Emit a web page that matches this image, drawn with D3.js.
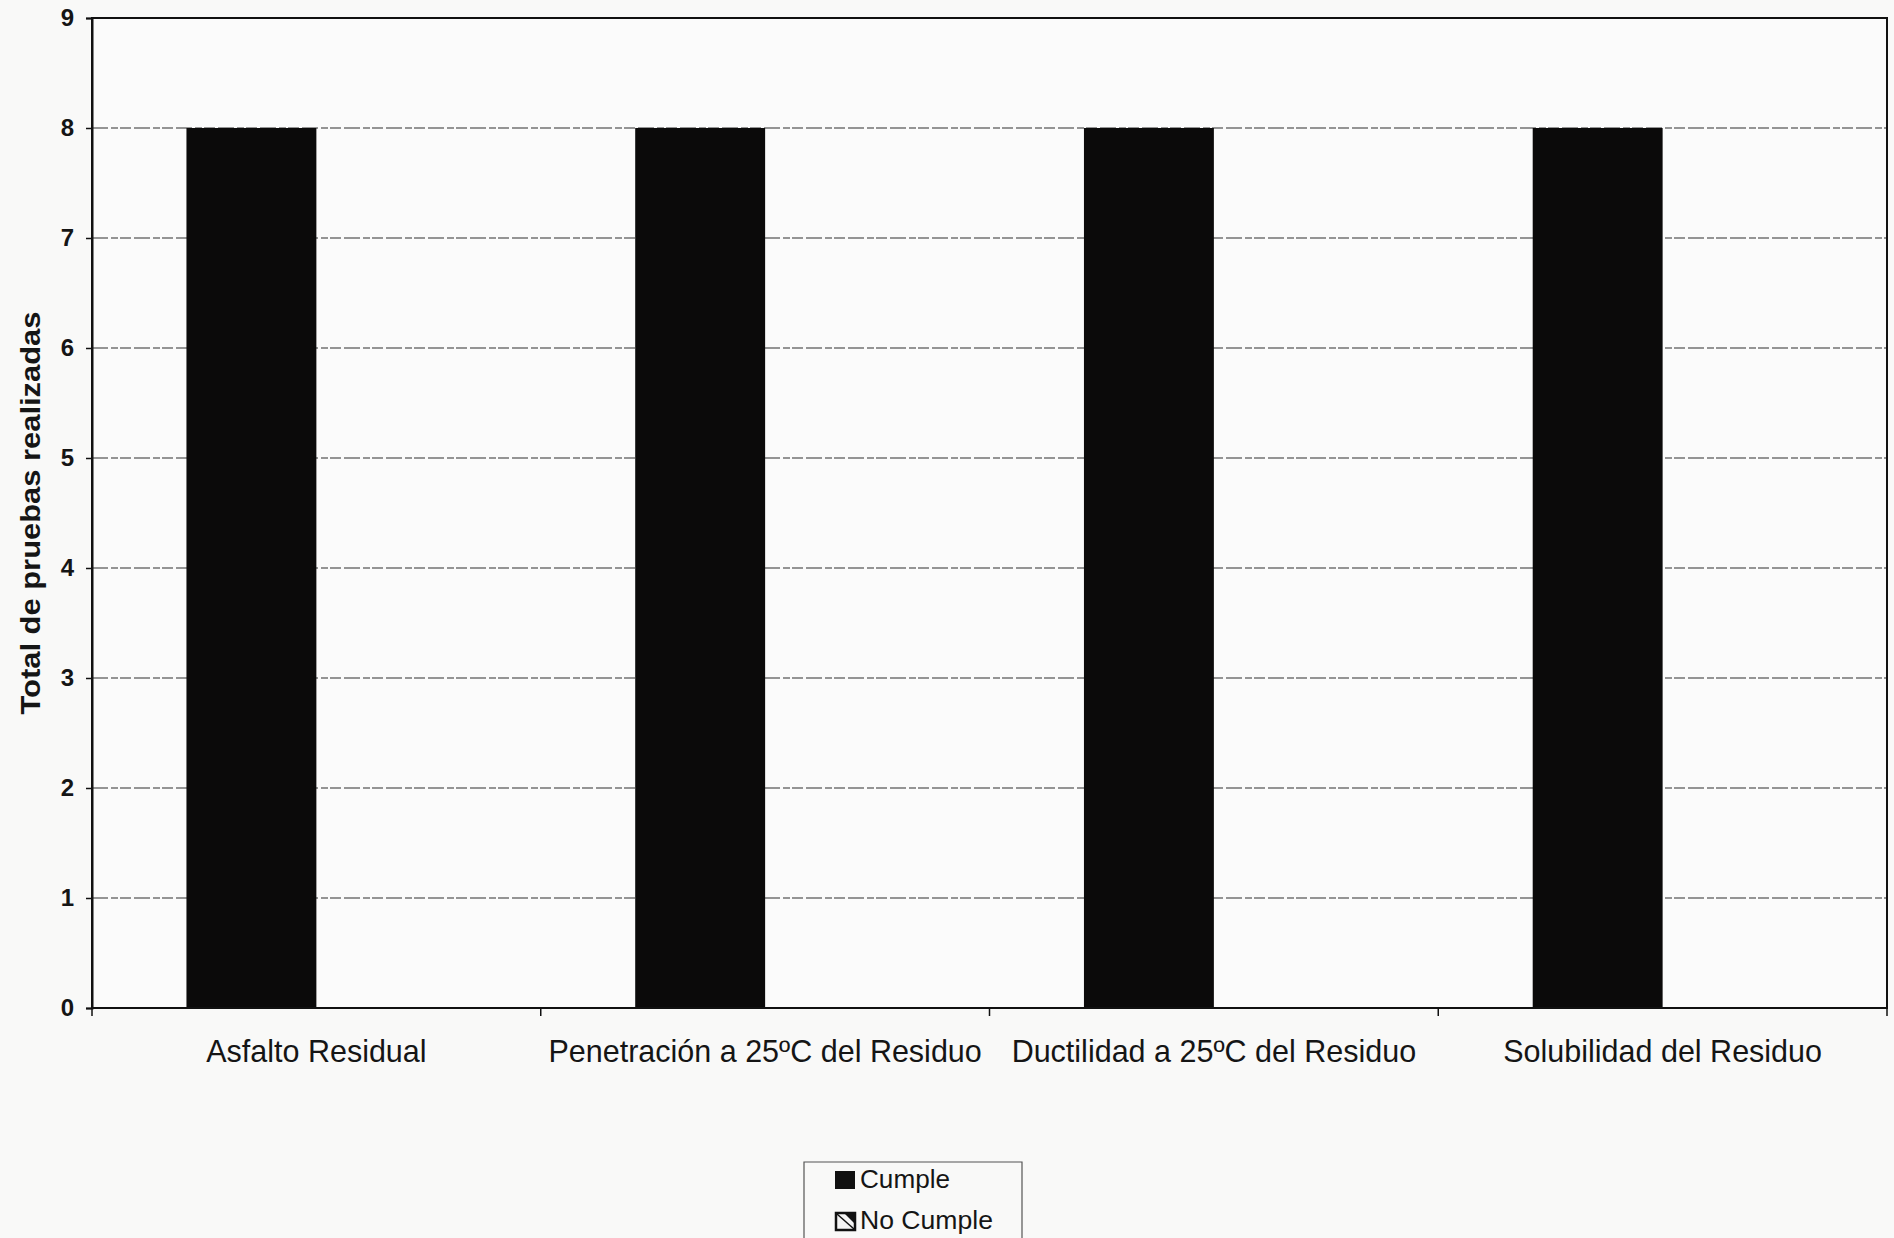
<!DOCTYPE html>
<html>
<head>
<meta charset="utf-8">
<script src="https://cdn.jsdelivr.net/npm/d3@7"></script>
<style>
  html, body { margin: 0; padding: 0; background: #f9f9f8; }
  svg { display: block; }
  text { font-family: "Liberation Sans", Arial, sans-serif; fill: #151515; }
</style>
</head>
<body>
<svg id="chart" width="1894" height="1238"></svg>
<script>
const categories = ["Asfalto Residual", "Penetración a 25ºC del Residuo", "Ductilidad a 25ºC del Residuo", "Solubilidad del Residuo"];
const seriesNames = ["Cumple", "No Cumple"];
const cumple = [8, 8, 8, 8];
const noCumple = [0, 0, 0, 0];
const yTicks = [0, 1, 2, 3, 4, 5, 6, 7, 8, 9];
const yTitle = "Total de pruebas realizadas";

const svg = d3.select("#chart");
const W = 1894, H = 1238;
const margin = { left: 92, right: 7, top: 18, bottom: 230 };
const x0 = margin.left, x1 = W - margin.right, yTop = margin.top, yBot = H - margin.bottom;

svg.append("rect").attr("width", W).attr("height", H).attr("fill", "#f9f9f8");

const x = d3.scaleBand().domain(categories).range([x0, x1]).paddingInner(0).paddingOuter(0);
const xs = d3.scaleBand().domain(seriesNames).range([0, x.bandwidth()]).paddingInner(0).paddingOuter(0.727);
const y = d3.scaleLinear().domain([0, 9]).range([yBot, yTop]);

// plot background
svg.append("rect").attr("x", x0).attr("y", yTop).attr("width", x1 - x0).attr("height", yBot - yTop).attr("fill", "#fbfbfb");

// gridlines
svg.append("g")
  .selectAll("line")
  .data(yTicks.filter(t => t > 0 && t < 9))
  .join("line")
  .attr("x1", x0).attr("x2", x1)
  .attr("y1", d => y(d)).attr("y2", d => y(d))
  .attr("stroke", "#2e2e2e").attr("stroke-width", 1.2)
  .attr("stroke-dasharray", "16,3,7,2,11,3");

// bars
const data = categories.map((c, i) => ({ cat: c, vals: [{ s: "Cumple", v: cumple[i] }, { s: "No Cumple", v: noCumple[i] }] }));
const groups = svg.append("g").selectAll("g").data(data).join("g")
  .attr("transform", d => `translate(${x(d.cat)},0)`);
groups.selectAll("rect").data(d => d.vals.filter(e => e.v > 0)).join("rect")
  .attr("x", d => xs(d.s))
  .attr("width", xs.bandwidth())
  .attr("y", d => y(d.v))
  .attr("height", d => y(0) - y(d.v))
  .attr("fill", "#0b0a0a");

// frame
svg.append("rect").attr("x", x0).attr("y", yTop).attr("width", x1 - x0).attr("height", yBot - yTop)
  .attr("fill", "none").attr("stroke", "#111").attr("stroke-width", 2);

// y axis
const yAxis = svg.append("g").attr("transform", `translate(${x0},0)`)
  .call(d3.axisLeft(y).tickValues(yTicks).tickSize(6).tickPadding(12).tickFormat(d3.format("d")));
yAxis.select(".domain").attr("stroke", "#111").attr("stroke-width", 2);
yAxis.selectAll(".tick line").attr("stroke", "#111").attr("stroke-width", 1.5);
yAxis.selectAll(".tick text").attr("font-size", 24).attr("font-weight", "bold")
  .attr("font-family", "Liberation Sans, Arial, sans-serif").attr("fill", "#151515");

// x axis: ticks at category boundaries
const xAxis = svg.append("g").attr("transform", `translate(0,${yBot})`);
xAxis.append("line").attr("x1", x0).attr("x2", x1).attr("y1", 0).attr("y2", 0).attr("stroke", "#111").attr("stroke-width", 2);
const bounds = categories.map(c => x(c)).concat([x1]);
xAxis.selectAll("line.tk").data(bounds).join("line").attr("class", "tk")
  .attr("x1", d => d).attr("x2", d => d).attr("y1", 0).attr("y2", 8)
  .attr("stroke", "#111").attr("stroke-width", 1.5);
xAxis.selectAll("text").data(categories).join("text")
  .attr("x", d => x(d) + x.bandwidth() / 2)
  .attr("y", 54)
  .attr("text-anchor", "middle")
  .attr("font-size", 30.5)
  .text(d => d);

// y title
svg.append("text")
  .attr("transform", `translate(40,513) rotate(-90)`)
  .attr("text-anchor", "middle")
  .attr("font-size", 28).attr("font-weight", "bold")
  .attr("textLength", 403).attr("lengthAdjust", "spacingAndGlyphs")
  .text(yTitle);

// legend
const lg = svg.append("g").attr("transform", "translate(804,1162)");
lg.append("path").attr("d", "M0,80 V0 H218 V80").attr("fill", "none").attr("stroke", "#555").attr("stroke-width", 1.2);
const items = lg.selectAll("g").data(seriesNames).join("g")
  .attr("transform", (d, i) => `translate(0,${i * 41})`);
items.filter((d, i) => i === 0).append("rect")
  .attr("x", 31).attr("y", 9).attr("width", 20).attr("height", 18).attr("fill", "#111");
const nc = items.filter((d, i) => i === 1);
nc.append("rect").attr("x", 32).attr("y", 10).attr("width", 19).attr("height", 17)
  .attr("fill", "#f4f4f4").attr("stroke", "#111").attr("stroke-width", 2.5);
nc.append("path").attr("d", "M40,10 L51,10 L51,21 Z").attr("fill", "#111");
nc.append("line").attr("x1", 33).attr("y1", 11).attr("x2", 50).attr("y2", 26).attr("stroke", "#111").attr("stroke-width", 1.5);
items.append("text")
  .attr("x", 56).attr("y", 26)
  .attr("font-size", 25)
  .attr("textLength", (d, i) => i === 0 ? 90 : 133)
  .attr("lengthAdjust", "spacingAndGlyphs")
  .text(d => d);
</script>
</body>
</html>
